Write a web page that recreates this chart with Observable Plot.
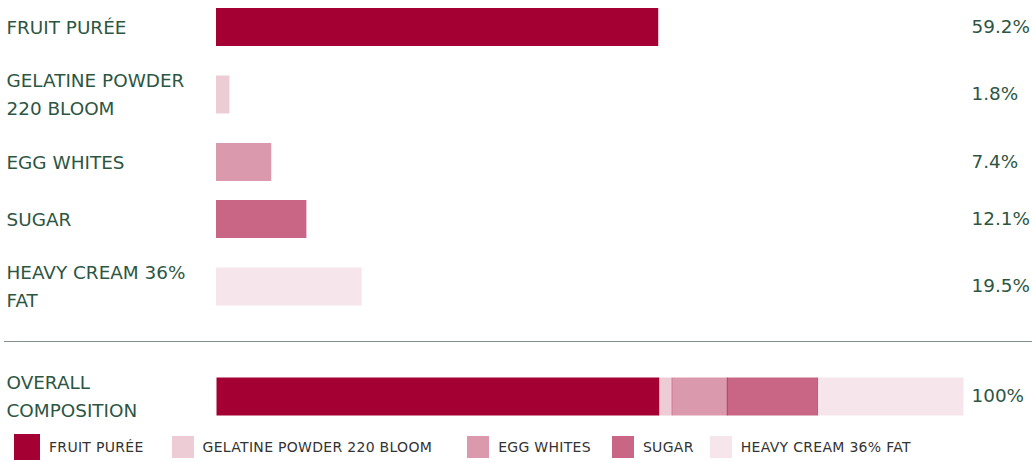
<!DOCTYPE html>
<html><head><meta charset="utf-8">
<script src="https://cdn.jsdelivr.net/npm/d3@7"></script>
<script src="https://cdn.jsdelivr.net/npm/@observablehq/plot@0.6"></script>
<style>
html,body{margin:0;padding:0;background:#fff;overflow:hidden;}
body{font-family:"DejaVu Sans",sans-serif;width:1032px;}
#rows{padding-top:8px;}
.row{margin-bottom:19px;}
.row:last-child{margin-bottom:0;}
#sep{margin:25px 0 0 4px;border-top:1px solid #7f9189;height:0;}
#overall{margin-top:25px;}
#legend{display:flex;align-items:center;height:30px;margin-top:6px;padding-left:14px;font-size:14px;letter-spacing:0.3px;color:#333;white-space:nowrap;}
.item{display:flex;align-items:center;}
.sw{margin-right:9px;flex:none;}
svg{display:block;}
</style></head><body>
<div id="rows"></div><div id="sep"></div><div id="overall"></div><div id="legend"></div>
<script>
// ---- data ----
const ingredients = ["FRUIT PURÉE", "GELATINE POWDER 220 BLOOM", "EGG WHITES", "SUGAR", "HEAVY CREAM 36% FAT"];
const shares = [59.2, 1.8, 7.4, 12.1, 19.5];
const overallLabel = "OVERALL COMPOSITION";
const overallValue = 100;

// ---- styles ----
const palette = ["#a50034", "rgba(165,0,52,0.2)", "rgba(165,0,52,0.4)", "rgba(165,0,52,0.6)", "rgba(165,0,52,0.1)"];
const textColor = "#2d5642";
const swatchSizes = [26, 22, 22, 22, 22];
const itemGaps = [28, 35, 21, 16, 0];
const barH = 38, oneLineH = 38, twoLineH = 59, lineH = 28, labelMaxW = 205, fs = 18.4;

const rows = ingredients.map((name, i) => ({name, value: shares[i]}));
const figStyle = {fontFamily: '"DejaVu Sans", sans-serif', fontSize: fs + "px", color: textColor, background: "transparent", overflow: "visible"};
const colorScale = {domain: ingredients, range: palette};

// greedy word wrap measured in the label font
const ctx = document.createElement("canvas").getContext("2d");
ctx.font = fs + 'px "DejaVu Sans"';
function wrap(s) {
  const lines = []; let cur = "";
  for (const w of s.split(" ")) {
    const t = cur ? cur + " " + w : w;
    if (cur && ctx.measureText(t).width > labelMaxW) { lines.push(cur); cur = w; } else cur = t;
  }
  lines.push(cur);
  return lines;
}

function rowPlot(label, barMarkFn, valueText, marginLeft) {
  const lines = wrap(label);
  const h = lines.length > 1 ? twoLineH : oneLineH;
  const pad = (h - barH) / 2;
  return Plot.plot({
    width: 1032, height: h,
    marginTop: pad, marginBottom: pad, marginLeft, marginRight: 69,
    style: figStyle,
    x: {domain: [0, 100], axis: null},
    y: {domain: [label], axis: null, padding: 0, round: false},
    color: colorScale,
    marks: [
      barMarkFn(label),
      Plot.text([lines.join("\n")], {y: () => label, text: d => d, frameAnchor: "left", textAnchor: "start",
        dx: 7 - marginLeft - 1, dy: -2.5, lineHeight: lineH / fs, fontSize: fs, fill: textColor}),
      Plot.text([valueText], {y: () => label, text: d => d, frameAnchor: "right", textAnchor: "start",
        dx: 8, dy: -0.5, fontSize: fs, fill: textColor})
    ]
  });
}

const rowsDiv = document.getElementById("rows");
rows.forEach(r => {
  const div = document.createElement("div");
  div.className = "row";
  div.append(rowPlot(r.name, lab => Plot.barX([r], {x: "value", y: () => lab, fill: "name"}),
    r.value.toFixed(1) + "%", 216));
  rowsDiv.append(div);
});

document.getElementById("overall").append(
  rowPlot(overallLabel,
    lab => Plot.barX(rows, Plot.stackX({x: "value", y: () => lab, fill: "name", insetLeft: -0.5, insetRight: -0.5})),
    overallValue + "%", 217)
);

const legend = document.getElementById("legend");
ingredients.forEach((name, i) => {
  const item = document.createElement("div");
  item.className = "item";
  item.style.marginRight = itemGaps[i] + "px";
  const sw = document.createElement("span");
  sw.className = "sw";
  sw.style.width = swatchSizes[i] + "px";
  sw.style.height = swatchSizes[i] + "px";
  sw.style.background = palette[i];
  const label = document.createElement("span");
  label.textContent = name;
  item.append(sw, label);
  legend.append(item);
});
</script>
</body></html>
